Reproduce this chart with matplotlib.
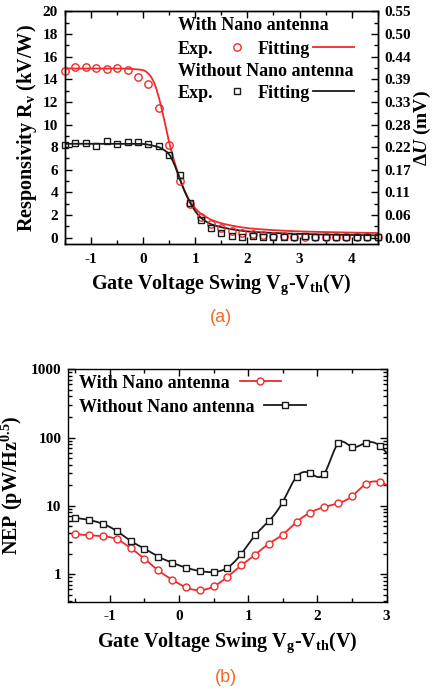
import numpy as np
import matplotlib
matplotlib.use('Agg')
import matplotlib.pyplot as plt
from matplotlib.lines import Line2D
from matplotlib.ticker import MultipleLocator, LogLocator, NullFormatter, FixedLocator

plt.rcParams.update({
    'font.family': ['Liberation Serif', 'DejaVu Serif'],
    'font.weight': 'bold',
    'axes.unicode_minus': False,
    'mathtext.fontset': 'custom',
    'mathtext.rm': 'Liberation Serif',
    'mathtext.bf': 'Liberation Serif:bold',
    'mathtext.it': 'Liberation Serif:italic:bold',
    'axes.linewidth': 1.0,
})

RED = '#ee2a2a'
BLACK = '#1a1a1a'
ORANGE = '#f06a28'

# ---------------- Panel (a) data ----------------
vg_a = [-1.5, -1.3, -1.1, -0.9, -0.7, -0.5, -0.3, -0.1, 0.1, 0.3, 0.5, 0.7, 0.9, 1.1,
        1.3, 1.5, 1.7, 1.9, 2.1, 2.3, 2.5, 2.7, 2.9, 3.1, 3.3, 3.5, 3.7, 3.9, 4.1, 4.3, 4.5]
rv_with = [14.7, 15.1, 15.1, 15.0, 14.9, 15.0, 14.8, 14.2, 13.6, 11.5, 8.2, 5.05, 3.0, 1.85,
           1.2, 0.88, 0.56, 0.38, 0.30, 0.24, 0.15, 0.12, 0.10, 0.10, 0.08, 0.08, 0.07, 0.07,
           0.06, 0.06, 0.06]
rv_without = [8.16, 8.4, 8.37, 8.13, 8.55, 8.28, 8.46, 8.46, 8.3, 8.1, 7.34, 5.5, 3.1, 1.53,
              0.85, 0.41, 0.18, 0.03, 0.15, 0.06, 0.06, 0.03, 0.03, 0.12, 0.06, 0.03, 0.06,
              0.06, 0.03, 0.03, 0.06]

vg_fit = [-1.5, -1.0, -0.5, -0.2, 0.0, 0.1, 0.2, 0.3, 0.4, 0.5, 0.6, 0.7, 0.8, 0.9, 1.0,
          1.1, 1.2, 1.3, 1.4, 1.5, 1.7, 2.0, 2.5, 3.0, 3.5, 4.0, 4.5]
fit_with = [14.95, 14.95, 14.95, 14.9, 14.8, 14.5, 13.8, 12.4, 10.5, 8.4, 6.7, 5.3, 4.1, 3.2,
            2.6, 2.15, 1.85, 1.6, 1.42, 1.28, 1.07, 0.85, 0.67, 0.56, 0.50, 0.45, 0.42]
fit_without = [8.3, 8.3, 8.3, 8.3, 8.28, 8.22, 8.12, 8.0, 7.75, 7.35, 6.45, 5.2, 4.05, 3.1,
               2.35, 1.8, 1.45, 1.2, 1.05, 0.93, 0.75, 0.56, 0.42, 0.34, 0.28, 0.24, 0.21]

left_ticks_a = [0, 2, 4, 6, 8, 10, 12, 14, 16, 18, 20]
right_ticklabels_a = ['0.00', '0.06', '0.11', '0.17', '0.22', '0.28', '0.33', '0.39',
                      '0.44', '0.50', '0.55']

# ---------------- Panel (b) data ----------------
vg_b = [-1.5, -1.3, -1.1, -0.9, -0.7, -0.5, -0.3, -0.1, 0.1, 0.3, 0.5, 0.7, 0.9, 1.1,
        1.3, 1.5, 1.7, 1.9, 2.1, 2.3, 2.5, 2.7, 2.9]
nep_with = [3.87, 3.7, 3.6, 3.23, 2.41, 1.68, 1.13, 0.83, 0.64, 0.58, 0.66, 0.91, 1.34, 1.92,
            2.79, 3.79, 5.8, 7.98, 9.6, 10.9, 13.8, 20.8, 22.3]
nep_without = [6.67, 6.2, 5.43, 4.28, 3.06, 2.36, 1.8, 1.47, 1.24, 1.11, 1.07, 1.24, 1.97,
               3.7, 6.0, 11.4, 26.7, 29.9, 29.6, 82, 73, 84, 76]
line_end_x = 3.0
nep_with_end = 20.3
nep_without_end = 60.0


def pchip(x, y, n=600):
    x = np.asarray(x, float)
    y = np.asarray(y, float)
    h = np.diff(x)
    d = np.diff(y) / h
    m = np.zeros_like(y)
    for k in range(1, len(x) - 1):
        if d[k - 1] * d[k] <= 0:
            m[k] = 0.0
        else:
            w1 = 2 * h[k] + h[k - 1]
            w2 = h[k] + 2 * h[k - 1]
            m[k] = (w1 + w2) / (w1 / d[k - 1] + w2 / d[k])
    m[0] = d[0]
    m[-1] = d[-1]
    xs = np.linspace(x[0], x[-1], n)
    idx = np.clip(np.searchsorted(x, xs) - 1, 0, len(x) - 2)
    t = (xs - x[idx]) / h[idx]
    h00 = 2 * t**3 - 3 * t**2 + 1
    h10 = t**3 - 2 * t**2 + t
    h01 = -2 * t**3 + 3 * t**2
    h11 = t**3 - t**2
    ys = h00 * y[idx] + h10 * h[idx] * m[idx] + h01 * y[idx + 1] + h11 * h[idx] * m[idx + 1]
    return xs, ys


def natural_spline(x, y, n=600):
    x = np.asarray(x, float)
    y = np.asarray(y, float)
    nn = len(x)
    h = np.diff(x)
    A = np.zeros((nn, nn))
    r = np.zeros(nn)
    A[0, 0] = A[-1, -1] = 1.0
    for i in range(1, nn - 1):
        A[i, i - 1] = h[i - 1]
        A[i, i] = 2 * (h[i - 1] + h[i])
        A[i, i + 1] = h[i]
        r[i] = 3 * ((y[i + 1] - y[i]) / h[i] - (y[i] - y[i - 1]) / h[i - 1])
    c = np.linalg.solve(A, r)
    b = (y[1:] - y[:-1]) / h - h * (2 * c[:-1] + c[1:]) / 3
    d = (c[1:] - c[:-1]) / (3 * h)
    xs = np.linspace(x[0], x[-1], n)
    idx = np.clip(np.searchsorted(x, xs) - 1, 0, nn - 2)
    dx = xs - x[idx]
    ys = y[idx] + b[idx] * dx + c[idx] * dx**2 + d[idx] * dx**3
    return xs, ys


fig = plt.figure(figsize=(4.38, 6.93), dpi=100)
W, H = 438.0, 693.0
FS_LAB = 14.5
fs_leg = 13

# ================= Panel (a) =================
ax = fig.add_axes([65 / W, 1 - 244.3 / H, 312.7 / W, 233.0 / H])
ax.plot(vg_a, rv_with, ls='none', marker='o', ms=5.3, mfc='none', mec=RED, mew=1.0,
        clip_on=False, zorder=3)
ax.plot(vg_a, rv_without, ls='none', marker='s', ms=4.8, mfc='none', mec=BLACK, mew=1.0,
        clip_on=False, zorder=4)
xs, ys = pchip(vg_fit, fit_with)
ax.plot(xs, ys, color=RED, lw=1.3, zorder=2)
xs, ys = pchip(vg_fit, fit_without)
ax.plot(xs, ys, color=BLACK, lw=1.3, zorder=2)

ax.set_xlim(-1.5, 4.5)
ax.set_ylim(-0.58, 20)
ax.xaxis.set_major_locator(MultipleLocator(1))
ax.xaxis.set_minor_locator(MultipleLocator(0.5))
ax.set_yticks(left_ticks_a)
ax.yaxis.set_minor_locator(MultipleLocator(1))
ax.tick_params(which='both', direction='in', top=True, labelsize=11, width=1.0)
ax.tick_params(which='major', length=5)
ax.tick_params(which='minor', length=3)
ax.tick_params(axis='y', pad=5)
ax.tick_params(axis='x', pad=6)
for lab in ax.get_xticklabels() + ax.get_yticklabels():
    lab.set_fontweight('bold')

ax2 = ax.twinx()
ax2.set_ylim(ax.get_ylim())
ax2.set_yticks(left_ticks_a)
ax2.set_yticklabels(right_ticklabels_a)
ax2.yaxis.set_minor_locator(MultipleLocator(1))
ax2.tick_params(which='both', direction='in', labelsize=11, width=1.0, pad=5)
ax2.tick_params(which='major', length=5)
ax2.tick_params(which='minor', length=3)
for lab in ax2.get_yticklabels():
    lab.set_fontweight('bold')

ax.set_xlabel(r'Gate Voltage Swing V$_{\mathbf{g}}$-V$_{\mathbf{th}}$(V)', fontsize=FS_LAB,
              fontweight='bold', labelpad=5)
ax.set_ylabel(r'Responsivity R$_{\mathbf{v}}$ (kV/W)', fontsize=FS_LAB, fontweight='bold',
              labelpad=3)
ax2.set_ylabel(r'$\mathbf{\Delta}\mathit{U}$ (mV)', fontsize=14, fontweight='bold',
               labelpad=0)

axw, axh = 312.7, 233.0
ax.text((178 - 65) / axw, (244.3 - 26) / axh, 'With Nano antenna', transform=ax.transAxes,
        fontsize=fs_leg, fontweight='bold', va='center', ha='left')
ax.text((178 - 65) / axw, (244.3 - 71) / axh, 'Without Nano antenna', transform=ax.transAxes,
        fontsize=fs_leg, fontweight='bold', va='center', ha='left')

leg_kw = dict(ncol=2, markerfirst=False, frameon=False, loc='center left',
              handlelength=2.3, handletextpad=0.15, columnspacing=0.0,
              borderpad=0, borderaxespad=0,
              prop={'family': 'Liberation Serif', 'weight': 'bold', 'size': fs_leg})
h1 = [Line2D([], [], ls='none', marker='o', ms=5.3, mfc='none', mec=RED, mew=1.0),
      Line2D([], [], color=RED, lw=1.3)]
h2 = [Line2D([], [], ls='none', marker='s', ms=4.8, mfc='none', mec=BLACK, mew=1.0),
      Line2D([], [], color=BLACK, lw=1.3)]
lg1 = ax.legend(h1, ['Exp.', 'Fitting'], bbox_to_anchor=((178 - 65) / axw, (244.3 - 49) / axh),
                **leg_kw)
ax.add_artist(lg1)
lg2 = ax.legend(h2, ['Exp.', 'Fitting'], bbox_to_anchor=((178 - 65) / axw, (244.3 - 93) / axh),
                **leg_kw)

# ================= Panel (b) =================
bx = fig.add_axes([68.3 / W, 1 - 602 / H, 318.2 / W, 232.7 / H])
xs, ys = natural_spline(vg_b + [line_end_x], np.log10(nep_with + [nep_with_end]))
bx.plot(xs, 10 ** ys, color=RED, lw=1.3, zorder=2)
xs, ys = natural_spline(vg_b + [line_end_x], np.log10(nep_without + [nep_without_end]))
bx.plot(xs, 10 ** ys, color=BLACK, lw=1.3, zorder=2)
bx.plot(vg_b, nep_with, ls='none', marker='o', ms=5, mfc='white', mec=RED, mew=1.0, zorder=3)
bx.plot(vg_b, nep_without, ls='none', marker='s', ms=5, mfc='white', mec=BLACK, mew=1.0,
        zorder=3)

bx.set_yscale('log')
bx.set_xlim(-1.6, 3.0)
bx.set_ylim(0.39, 1000)
bx.xaxis.set_major_locator(MultipleLocator(1))
bx.xaxis.set_minor_locator(MultipleLocator(0.5))
bx.yaxis.set_major_locator(FixedLocator([1, 10, 100, 1000]))
bx.set_yticklabels(['1', '10', '100', '1000'])
bx.yaxis.set_minor_locator(LogLocator(base=10, subs=np.arange(2, 10)))
bx.yaxis.set_minor_formatter(NullFormatter())
bx.tick_params(which='both', direction='in', top=True, right=True, labelsize=11, width=1.0)
bx.tick_params(which='major', length=5)
bx.tick_params(which='minor', length=3)
bx.tick_params(axis='y', pad=5)
bx.tick_params(axis='x', pad=6)
for lab in bx.get_xticklabels() + bx.get_yticklabels():
    lab.set_fontweight('bold')

bx.set_xlabel(r'Gate Voltage Swing V$_{\mathbf{g}}$-V$_{\mathbf{th}}$$\mathrm{(V)}$',
              fontsize=FS_LAB, fontweight='bold', labelpad=5)
bx.set_ylabel(r'NEP (pW/Hz$^{\mathbf{0.5}}$)', fontsize=FS_LAB, fontweight='bold', labelpad=4)

bw, bh = 318.2, 232.7
legb_kw = dict(markerfirst=False, frameon=False, loc='center left',
               handlelength=2.3, handletextpad=0.55, borderpad=0, borderaxespad=0,
               prop={'family': 'Liberation Serif', 'weight': 'bold', 'size': fs_leg})
hb1 = Line2D([], [], color=RED, lw=1.3, marker='o', ms=5, mfc='white', mec=RED, mew=1.0)
hb2 = Line2D([], [], color=BLACK, lw=1.3, marker='s', ms=5, mfc='white', mec=BLACK, mew=1.0)
lb1 = bx.legend([hb1], ['With Nano antenna'],
                bbox_to_anchor=((79 - 68.3) / bw, (602 - 383) / bh), **legb_kw)
bx.add_artist(lb1)
lb2 = bx.legend([hb2], ['Without Nano antenna'],
                bbox_to_anchor=((79 - 68.3) / bw, (602 - 407) / bh), **legb_kw)

fig.text(221 / W, 1 - 318 / H, '(a)', color=ORANGE, fontsize=13, fontweight='normal',
         family='Liberation Sans', ha='center', va='center')
fig.text(226 / W, 1 - 678 / H, '(b)', color=ORANGE, fontsize=13, fontweight='normal',
         family='Liberation Sans', ha='center', va='center')

fig.savefig('out.png', dpi=100)
